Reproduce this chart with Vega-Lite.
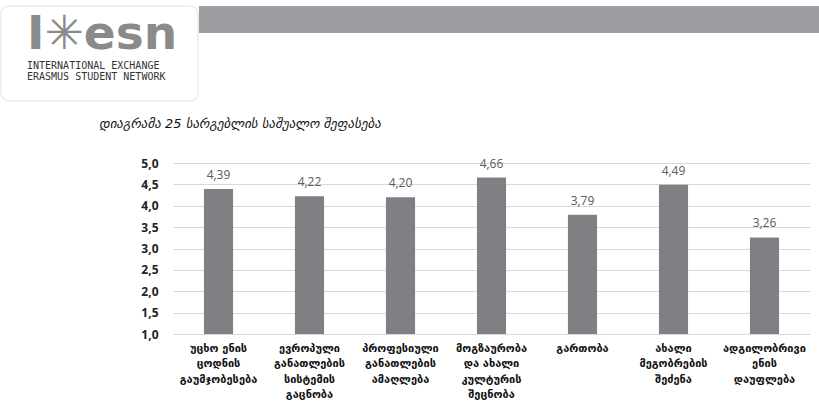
{
  "$schema": "https://vega.github.io/schema/vega-lite/v6.json",
  "padding": 0,
  "background": "white",
  "spacing": 16,
  "config": {
    "view": {"stroke": null},
    "font": "DejaVu Sans",
    "locale": {
      "number": {"decimal": ",", "thousands": " ", "grouping": [3], "currency": ["", ""]}
    }
  },
  "vconcat": [
    {
      "spacing": 0,
      "hconcat": [
        {
          "width": 197,
          "height": 95,
          "title": {
            "text": "I✳esn",
            "subtitle": ["INTERNATIONAL EXCHANGE", "ERASMUS STUDENT NETWORK"],
            "anchor": "start",
            "frame": "group",
            "dx": 26,
            "offset": -78,
            "font": "DejaVu Sans",
            "fontSize": 47,
            "fontWeight": "bold",
            "color": "#8a8a8a",
            "subtitleFont": "DejaVu Sans Mono",
            "subtitleFontSize": 10,
            "subtitleColor": "#333333",
            "subtitleLineHeight": 11,
            "subtitlePadding": 2
          },
          "data": {"values": [{"box": "logo"}]},
          "mark": {"type": "rect", "fill": "white", "stroke": "#ebebeb", "strokeWidth": 1.5, "cornerRadius": 8},
          "encoding": {}
        },
        {
          "width": 622,
          "height": 27,
          "title": {"text": " ", "fontSize": 6, "offset": 0},
          "data": {"values": [{"band": "header"}]},
          "mark": {"type": "rect", "fill": "#9d9ea1"},
          "encoding": {}
        }
      ]
    },
    {
      "spacing": 0,
      "hconcat": [
        {
          "width": 98,
          "height": 10,
          "data": {"values": [{"s": ""}]},
          "mark": {"type": "text", "text": ""},
          "encoding": {}
        },
        {
          "width": 637,
          "height": 171,
          "title": {
            "text": "დიაგრამა 25 სარგებლის საშუალო შეფასება",
            "anchor": "start",
            "frame": "group",
            "dx": -74,
            "offset": 26,
            "font": "DejaVu Sans",
            "fontSize": 13,
            "fontStyle": "italic",
            "fontWeight": "normal",
            "color": "#111111"
          },
          "data": {
            "values": [
              {"benefit": "უცხო ენის\nცოდნის\nგაუმჯობესება", "score": 4.39},
              {"benefit": "ევროპული\nგანათლების\nსისტემის\nგაცნობა", "score": 4.22},
              {"benefit": "პროფესიული\nგანათლების\nამაღლება", "score": 4.20},
              {"benefit": "მოგზაურობა\nდა ახალი\nკულტურის\nშეცნობა", "score": 4.66},
              {"benefit": "გართობა", "score": 3.79},
              {"benefit": "ახალი\nმეგობრების\nშეძენა", "score": 4.49},
              {"benefit": "ადგილობრივი\nენის\nდაუფლება", "score": 3.26}
            ]
          },
          "encoding": {
            "x": {
              "field": "benefit",
              "type": "nominal",
              "sort": null,
              "scale": {"paddingInner": 0.68, "paddingOuter": 0.34},
              "axis": {
                "title": null,
                "labelAngle": 0,
                "labelExpr": "split(datum.value, '\\n')",
                "ticks": false,
                "domain": true,
                "domainColor": "#d9d9d9",
                "labelFont": "DejaVu Sans",
                "labelFontSize": 11,
                "labelFontWeight": "bold",
                "labelColor": "#111111",
                "labelLineHeight": 15.5,
                "labelPadding": 8,
                "labelLimit": 0
              }
            },
            "y": {
              "field": "score",
              "type": "quantitative",
              "scale": {"domain": [1, 5], "nice": false, "zero": false},
              "axis": {
                "title": null,
                "values": [1, 1.5, 2, 2.5, 3, 3.5, 4, 4.5, 5],
                "format": ".1f",
                "labelFont": "Open Sans",
                "labelFontSize": 12,
                "labelFontWeight": "bold",
                "labelColor": "#222222",
                "labelPadding": 15,
                "ticks": false,
                "domain": false,
                "gridColor": "#d9d9d9"
              }
            }
          },
          "layer": [
            {
              "mark": {"type": "bar", "color": "#7f8084"},
              "encoding": {"y2": {"datum": 1}}
            },
            {
              "mark": {"type": "text", "dy": -7, "baseline": "bottom", "font": "Open Sans", "fontSize": 12, "color": "#595959"},
              "encoding": {"text": {"field": "score", "type": "quantitative", "format": ".2f"}}
            }
          ]
        }
      ]
    }
  ]
}
